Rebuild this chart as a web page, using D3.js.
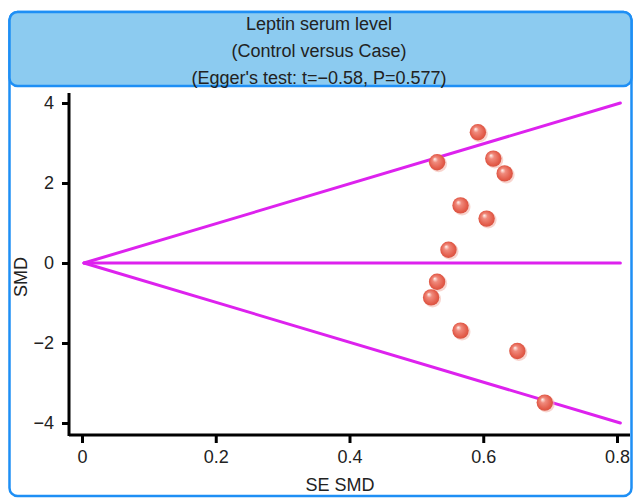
<!DOCTYPE html>
<html>
<head>
    <meta charset="UTF-8">
    <style>
        body { margin: 0; background: #fff; }
        svg text { font-family: "Liberation Sans", Arial, sans-serif; fill: #222; }
    </style>
</head>
<body>
    <svg></svg>
    <script src="https://d3js.org/d3.v7.min.js"></script>
    <script>
        let width = 635, height = 502;

        // data
        const titleLines = ["Leptin serum level", "(Control versus Case)", "(Egger's test: t=\u22120.58, P=0.577)"];
        const seValues = [0.592, 0.531, 0.615, 0.632, 0.566, 0.605, 0.548, 0.531, 0.522, 0.566, 0.651, 0.692];
        const smdValues = [3.27, 2.52, 2.61, 2.24, 1.44, 1.11, 0.33, -0.47, -0.86, -1.69, -2.2, -3.49];
        const funnelSE = [0.003, 0.805];
        const funnelUpper = [0, 4.0];
        const funnelLower = [0, -4.0];
        const xTicks = [0, 0.2, 0.4, 0.6, 0.8];
        const yTicks = [-4, -2, 0, 2, 4];

        let svg = d3.select("svg")
            .attr("width", width)
            .attr("height", height);

        // outer frame
        svg.append("rect")
            .attr("x", 9.5).attr("y", 12)
            .attr("width", 622).attr("height", 484)
            .attr("rx", 8)
            .attr("fill", "white")
            .attr("stroke", "#1e8ff5")
            .attr("stroke-width", 2.5);

        // title box
        svg.append("rect")
            .attr("x", 9.5).attr("y", 12)
            .attr("width", 622).attr("height", 74)
            .attr("rx", 8)
            .attr("fill", "#8ccbf0")
            .attr("stroke", "#1e8ff5")
            .attr("stroke-width", 2.5);

        svg.append("g").selectAll("text")
            .data(titleLines)
            .enter()
            .append("text")
            .attr("x", 319)
            .attr("y", (d, i) => 30 + i * 27)
            .attr("text-anchor", "middle")
            .attr("font-size", 18)
            .text(d => d);

        let x = d3.scaleLinear().domain([0, 0.8]).range([82, 617]);
        let y = d3.scaleLinear().domain([-4, 4]).range([423, 103]);

        // axes
        let xAxis = svg.append("g")
            .attr("transform", "translate(0,435)")
            .call(d3.axisBottom(x).tickValues(xTicks).tickFormat(d3.format("")).tickSize(8).tickPadding(7));
        xAxis.select(".domain").attr("d", "M69,0H630").attr("stroke", "#000").attr("stroke-width", 3);

        let yAxis = svg.append("g")
            .attr("transform", "translate(69,0)")
            .call(d3.axisLeft(y).tickValues(yTicks).tickFormat(d => d < 0 ? "\u2212" + Math.abs(d) : d).tickSize(7).tickPadding(8));
        yAxis.select(".domain").attr("d", "M0,93V436").attr("stroke", "#000").attr("stroke-width", 3);

        svg.selectAll(".tick line").attr("stroke", "#000").attr("stroke-width", 3);
        svg.selectAll(".tick text").attr("font-size", 18).attr("fill", "#222")
            .style("font-family", "Liberation Sans, Arial, sans-serif");

        svg.append("text")
            .attr("x", 340).attr("y", 491)
            .attr("text-anchor", "middle")
            .attr("font-size", 18)
            .text("SE SMD");

        svg.append("text")
            .attr("transform", "translate(27,277) rotate(-90)")
            .attr("text-anchor", "middle")
            .attr("font-size", 18)
            .text("SMD");

        // funnel lines
        let line = d3.line().x(d => x(d[0])).y(d => y(d[1]));
        [funnelUpper, funnelLower, [0, 0]].forEach(ys => {
            svg.append("path")
                .attr("d", line(funnelSE.map((s, i) => [s, ys[i]])))
                .attr("fill", "none")
                .attr("stroke", "#dd22ee")
                .attr("stroke-width", 3)
                .attr("stroke-linecap", "round");
        });

        // sphere gradient
        let defs = svg.append("defs");
        let grad = defs.append("radialGradient")
            .attr("id", "ball")
            .attr("cx", "50%").attr("cy", "50%").attr("r", "55%")
            .attr("fx", "35%").attr("fy", "30%");
        grad.append("stop").attr("offset", "0%").attr("stop-color", "#fff6f2");
        grad.append("stop").attr("offset", "30%").attr("stop-color", "#f08a7c");
        grad.append("stop").attr("offset", "80%").attr("stop-color", "#e25a48");
        grad.append("stop").attr("offset", "100%").attr("stop-color", "#d4503f");

        let pts = seValues.map((s, i) => ({ se: s, smd: smdValues[i] }));

        svg.append("g").selectAll("circle")
            .data(pts)
            .enter()
            .append("circle")
            .attr("cx", d => x(d.se) + 1.5)
            .attr("cy", d => y(d.smd) + 1.5)
            .attr("r", 8.5)
            .attr("fill", "#f4b8ae")
            .attr("opacity", 0.6);

        svg.append("g").selectAll("circle")
            .data(pts)
            .enter()
            .append("circle")
            .attr("cx", d => x(d.se))
            .attr("cy", d => y(d.smd))
            .attr("r", 8.2)
            .attr("fill", "url(#ball)");
    </script>
</body>
</html>
